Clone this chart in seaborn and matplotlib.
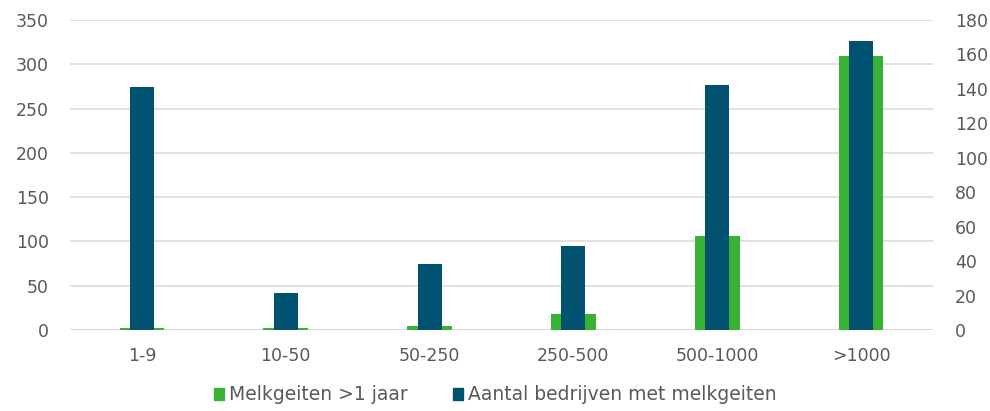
import numpy as np
import pandas as pd
import seaborn as sns
import matplotlib.pyplot as plt
from matplotlib.patches import Patch

# data
categories = ['1-9', '10-50', '50-250', '250-500', '500-1000', '>1000']
melkgeiten = [2, 2, 4, 18, 106, 309]               # left axis
bedrijven = [141, 21.5, 38.3, 48.8, 142, 167.8]    # right axis

green = '#37b234'
blue = '#005270'
text_col = '#595959'

sns.set_theme(style='white')
plt.rcParams['font.family'] = ['DejaVu Sans']

df = pd.DataFrame({'klasse': categories, 'melkgeiten': melkgeiten,
                   'bedrijven': bedrijven})

fig = plt.figure(figsize=(9.9, 4.11), dpi=100)
ax = fig.add_axes([70/990, 81/411, 863/990, 310/411])
ax.axhline(0, color='#d9d9d9', linewidth=1.5, zorder=1)
sns.barplot(data=df, x='klasse', y='melkgeiten', color=green, width=0.31,
            saturation=1, linewidth=0, ax=ax, zorder=2)
ax.set_ylim(0, 350)
ax.set_yticks(np.arange(0, 351, 50))
ax.grid(axis='y', color='#d9d9d9', linewidth=1.1, zorder=0)
ax.set_axisbelow(True)

ax2 = ax.twinx()
sns.barplot(data=df, x='klasse', y='bedrijven', color=blue, width=0.167,
            saturation=1, linewidth=0, ax=ax2, zorder=3)
ax2.set_ylim(0, 180)
ax2.set_yticks(np.arange(0, 181, 20))

for a in (ax, ax2):
    for s in a.spines.values():
        s.set_visible(False)
    a.set_xlabel('')
    a.set_ylabel('')
    a.tick_params(axis='both', length=0, labelsize=12.5, colors=text_col)
ax.tick_params(axis='x', pad=12)
ax.tick_params(axis='y', pad=15)
ax2.tick_params(axis='y', pad=16)
ax.set_xlim(-0.5, 5.5)

handles = [Patch(color=green, label='Melkgeiten >1 jaar'),
           Patch(color=blue, label='Aantal bedrijven met melkgeiten')]
fig.legend(handles=handles, loc='lower center', ncol=2, frameon=False,
           bbox_to_anchor=(0.5, -0.025), fontsize=13.5, handlelength=0.55,
           handleheight=0.65, handletextpad=0.25, columnspacing=2.4,
           labelcolor=text_col)

fig.savefig('out.png', dpi=100)
